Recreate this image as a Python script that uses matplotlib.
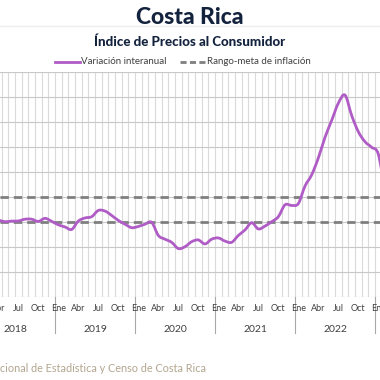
import numpy as np
import matplotlib.pyplot as plt
from matplotlib.path import Path
from matplotlib.patches import PathPatch
from matplotlib.lines import Line2D

# Variación interanual del IPC (%), mensual desde Ene 2018
inflacion = [
    2.00, 2.20, 2.30, 2.14, 2.00, 2.05, 2.06, 2.20, 2.20, 2.02, 2.27, 2.03,  # 2018
    1.75, 1.58, 1.38, 2.05, 2.30, 2.40, 2.90, 2.85, 2.50, 2.10, 1.80, 1.52,  # 2019
    1.62, 1.80, 1.95, 0.90, 0.60, 0.35, -0.15, 0.00, 0.40, 0.54, 0.22, 0.60,  # 2020
    0.70, 0.45, 0.35, 0.90, 1.34, 1.92, 1.42, 1.65, 2.00, 2.40, 3.35, 3.30,  # 2021
    3.45, 4.85, 5.75, 7.10, 8.75, 10.10, 11.48, 12.13, 10.50, 9.20, 8.40, 7.95,  # 2022
    7.40, 4.40,  # 2023
]
rango_meta = [2, 4]
anios = ['2018', '2019', '2020', '2021', '2022', '2023']
meses_tick = ['Ene', 'Abr', 'Jul', 'Oct']

morado = '#b05cc6'
gris_dash = '#7f7f7f'
azul = '#13223d'
fuente = 'Lato'

fig = plt.figure(figsize=(3.8, 3.8), dpi=100)

def fy(py):
    return 1 - py / 380

# Ejes: ancho completo (el gráfico original está recortado a los lados)
ax = fig.add_axes([0, fy(296.7), 1, fy(71.7) - fy(296.7)])
ax.set_xlim(3.25, 60.25)
ax.set_ylim(-4, 14)

# curva suavizada tipo Excel (Catmull-Rom como Bezier)
x = np.arange(len(inflacion), dtype=float)
y = np.array(inflacion)
verts = [(x[0], y[0])]
codes = [Path.MOVETO]
for i in range(len(x) - 1):
    p0 = (x[max(i - 1, 0)], y[max(i - 1, 0)])
    p1 = (x[i], y[i])
    p2 = (x[i + 1], y[i + 1])
    p3 = (x[min(i + 2, len(x) - 1)], y[min(i + 2, len(x) - 1)])
    c1 = (p1[0] + (p2[0] - p0[0]) / 6, p1[1] + (p2[1] - p0[1]) / 6)
    c2 = (p2[0] - (p3[0] - p1[0]) / 6, p2[1] - (p3[1] - p1[1]) / 6)
    verts += [c1, c2, p2]
    codes += [Path.CURVE4] * 3
ax.add_patch(PathPatch(Path(verts, codes), facecolor='none', edgecolor=morado,
                       lw=2.0, capstyle='round', joinstyle='round', zorder=4))

for v in rango_meta:
    ax.axhline(v, color=gris_dash, lw=2.0, ls=(0, (3, 1.8)), zorder=3)

# cuadrícula
for yy in np.arange(-4, 15, 2):
    ax.axhline(yy, color='#c8c8c8', lw=0.8, zorder=1)
for xx in np.arange(-0.5, 61, 1):
    ax.axvline(xx, color='#dadada', lw=0.8, zorder=0.5)

ax.set_xticks([])
ax.set_yticks([])
for s in ax.spines.values():
    s.set_visible(False)

# etiquetas de meses y años
for k, anio in enumerate(anios):
    for j, mes in enumerate(meses_tick):
        m = 12 * k + 3 * j
        ax.text(m, -4.55, mes, ha='center', va='top', fontsize=6.5,
                color='#404040', family=fuente, clip_on=False)
    ax.text(12 * k + 5.5, -6.3, anio, ha='center', va='top', fontsize=7.5,
            color='#404040', family=fuente, clip_on=False)
    ax.add_line(Line2D([12 * k - 0.5] * 2, [-4, -6.9], color='#a8a8a8', lw=0.8,
                       clip_on=False))

# títulos
fig.text(0.5, fy(17), 'Costa Rica', ha='center', va='center', fontsize=16.5,
         fontweight='black', color=azul, family=fuente)
fig.add_artist(Line2D([0, 1], [fy(26), fy(26)], color='#eeeeee', lw=1))
fig.text(0.5, fy(42), 'Índice de Precios al Consumidor', ha='center', va='center',
         fontsize=9.6, fontweight='black', color=azul, family=fuente)

# leyenda
fig.add_artist(Line2D([55 / 380, 80 / 380], [fy(62), fy(62)], color=morado, lw=2))
fig.text(81 / 380, fy(62), 'Variación interanual', ha='left', va='center',
         fontsize=7.0, color='#404040', family=fuente)
fig.add_artist(Line2D([180 / 380, 206 / 380], [fy(62), fy(62)], color=gris_dash,
                      lw=2, ls=(0, (2.2, 1.2))))
fig.text(207 / 380, fy(62), 'Rango-meta de inflación', ha='left', va='center',
         fontsize=7.0, color='#404040', family=fuente)

# fuente
fig.text(206 / 380, fy(369), 'Fuente: Instituto Nacional de Estadística y Censo de Costa Rica',
         ha='right', va='center', fontsize=7.8, color='#b3a58f', family=fuente)

fig.savefig('out.png', dpi=100)
